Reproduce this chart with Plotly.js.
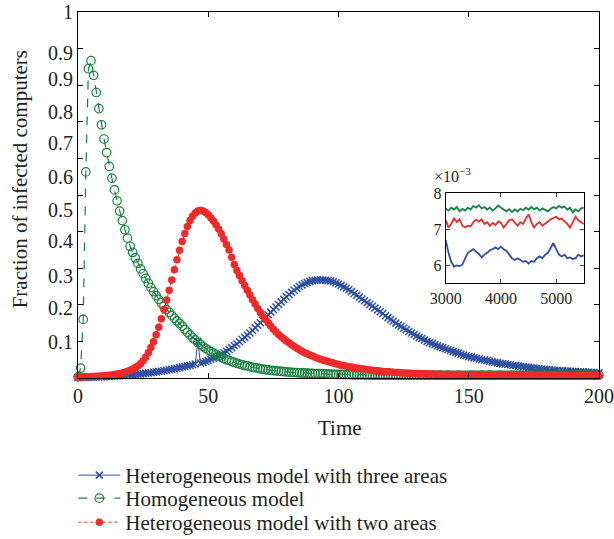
<!DOCTYPE html>
<html>
<head>
<meta charset="utf-8">
<script src="https://cdn.plot.ly/plotly-3.0.1.min.js"></script>
<style>html,body{margin:0;padding:0;background:#fff;}#chart{width:614px;height:539px;}</style>
</head>
<body>
<div id="chart"></div>
<script>
// ---------- main plot data (fraction of infected computers, t = 0..200) ----------
const seriesNames = ["Heterogeneous model with three areas", "Homogeneous model", "Heterogeneous model with two areas"];

const threeAreas = [
0.001,0.0012,0.0014,0.0016,0.0018,0.002,0.0023,0.0026,0.0029,0.0032,
0.0035,0.0039,0.0043,0.0047,0.0052,0.0057,0.0062,0.0068,0.0074,0.008,
0.0087,0.0092,0.0098,0.0105,0.0112,0.012,0.0128,0.0136,0.0145,0.0155,
0.0165,0.0176,0.0187,0.0199,0.0211,0.0224,0.0238,0.0252,0.0267,0.0283,
0.03,0.0315,0.033,0.0345,0.036,0.038,0.1,0.041,0.043,0.045,
0.048,0.051,0.054,0.057,0.061,0.065,0.069,0.073,0.078,0.083,
0.088,0.093,0.099,0.105,0.111,0.117,0.123,0.13,0.137,0.144,
0.151,0.158,0.165,0.173,0.18,0.187,0.194,0.201,0.208,0.215,
0.222,0.228,0.234,0.24,0.245,0.25,0.254,0.258,0.261,0.264,
0.266,0.267,0.268,0.268,0.268,0.267,0.266,0.265,0.263,0.26,
0.257,0.253,0.249,0.245,0.241,0.236,0.231,0.226,0.221,0.216,
0.211,0.206,0.201,0.196,0.191,0.186,0.181,0.176,0.17,0.165,
0.16,0.155,0.15,0.145,0.141,0.136,0.132,0.127,0.123,0.119,
0.115,0.111,0.108,0.104,0.1,0.097,0.094,0.091,0.088,0.085,
0.083,0.08,0.077,0.075,0.072,0.07,0.068,0.065,0.063,0.061,
0.059,0.057,0.055,0.054,0.052,0.05,0.049,0.047,0.046,0.044,
0.043,0.042,0.04,0.039,0.038,0.037,0.036,0.035,0.034,0.033,
0.032,0.031,0.03,0.029,0.028,0.027,0.0262,0.0254,0.0246,0.0238,
0.023,0.0224,0.0218,0.0212,0.0206,0.02,0.0196,0.0192,0.0188,0.0184,
0.018,0.0176,0.0172,0.0168,0.0164,0.016,0.0156,0.0152,0.0148,0.0144,0.014];

const homogeneous = [
0.003,0.027,0.16,0.563,0.845,0.867,0.827,0.78,0.736,0.692,
0.653,0.616,0.578,0.546,0.514,0.484,0.456,0.43,0.405,0.382,
0.36,0.343,0.328,0.313,0.298,0.285,0.272,0.259,0.247,0.236,
0.225,0.215,0.205,0.196,0.187,0.179,0.171,0.163,0.156,0.149,
0.142,0.133,0.125,0.118,0.11,0.104,0.097,0.092,0.086,0.081,
0.076,0.072,0.068,0.064,0.06,0.057,0.053,0.05,0.048,0.045,
0.043,0.04,0.038,0.036,0.034,0.033,0.031,0.029,0.028,0.027,
0.025,0.024,0.023,0.022,0.021,0.02,0.0195,0.0187,0.018,0.0173,
0.0166,0.016,0.0155,0.015,0.0146,0.0142,0.0138,0.0135,0.0132,0.0129,
0.0126,0.0123,0.012,0.0117,0.0114,0.0111,0.0108,0.0106,0.0103,0.0101,
0.0099,0.0097,0.0095,0.0093,0.0091,0.009,0.0088,0.0087,0.0086,0.0085,
0.0084,0.0083,0.0082,0.0081,0.0081,0.008,0.008,0.0079,0.0079,0.0078,
0.0078,0.0078,0.0077,0.0077,0.0077,0.0077,0.0076,0.0076,0.0076,0.0076,
0.0076,0.0076,0.0076,0.0075,0.0076,0.0075,0.0076,0.0075,0.0075,0.0076,
0.0075,0.0075,0.0076,0.0075,0.0075,0.0075,0.0076,0.0075,0.0075,0.0075,
0.0075,0.0076,0.0075,0.0075,0.0075,0.0076,0.0075,0.0075,0.0076,0.0075,
0.0075,0.0075,0.0076,0.0075,0.0075,0.0075,0.0076,0.0075,0.0075,0.0075,
0.0076,0.0075,0.0075,0.0075,0.0076,0.0075,0.0075,0.0076,0.0075,0.0075,
0.0075,0.0076,0.0075,0.0075,0.0075,0.0076,0.0075,0.0075,0.0076,0.0075,
0.0075,0.0075,0.0076,0.0075,0.0075,0.0075,0.0076,0.0075,0.0075,0.0076,0.0075];

const twoAreas = [
0.003,0.003,0.0032,0.0034,0.0036,0.0039,0.0042,0.0046,0.005,0.0055,
0.006,0.0066,0.0074,0.0083,0.0094,0.0107,0.0122,0.014,0.016,0.0185,
0.0213,0.0246,0.0285,0.033,0.039,0.047,0.057,0.069,0.083,0.099,
0.118,0.139,0.162,0.187,0.213,0.24,0.268,0.296,0.323,0.349,
0.373,0.395,0.414,0.43,0.442,0.451,0.456,0.458,0.456,0.452,
0.446,0.438,0.429,0.419,0.407,0.394,0.38,0.365,0.35,0.33,
0.31,0.294,0.28,0.266,0.253,0.24,0.227,0.214,0.202,0.19,
0.179,0.169,0.16,0.151,0.142,0.133,0.126,0.119,0.113,0.107,
0.101,0.096,0.091,0.086,0.081,0.077,0.073,0.069,0.066,0.063,
0.06,0.057,0.054,0.051,0.049,0.047,0.045,0.043,0.041,0.039,
0.037,0.035,0.034,0.032,0.031,0.03,0.028,0.027,0.026,0.025,
0.024,0.023,0.022,0.021,0.02,0.0195,0.0188,0.018,0.0174,0.0168,
0.0162,0.0157,0.0152,0.0147,0.0143,0.0139,0.0135,0.0131,0.0128,0.0125,
0.0122,0.0119,0.0116,0.0113,0.0111,0.0109,0.0107,0.0105,0.0103,0.0101,
0.0099,0.0097,0.0096,0.0094,0.0093,0.0092,0.009,0.0089,0.0088,0.0087,
0.0086,0.0085,0.0084,0.0083,0.0083,0.0082,0.0081,0.0081,0.008,0.008,
0.0079,0.0079,0.0078,0.0078,0.0077,0.0077,0.0077,0.0076,0.0076,0.0076,
0.0075,0.0075,0.0075,0.0074,0.0074,0.0074,0.0074,0.0073,0.0073,0.0073,
0.0073,0.0073,0.0072,0.0072,0.0072,0.0072,0.0072,0.0072,0.0071,0.0071,
0.0071,0.0071,0.0071,0.0071,0.0071,0.0071,0.0071,0.0071,0.0071,0.0071,0.0071];

// ---------- inset data (x10^-3, t = 3000..5500 every 50) ----------
const insetThree = [6.7,6.35,6.1,5.97,6.0,5.98,6.02,6.2,6.35,6.4,6.45,6.38,6.32,6.22,6.3,6.35,6.42,6.45,6.5,6.45,6.52,6.45,6.4,6.3,6.2,6.15,6.2,6.15,6.1,6.12,6.05,6.12,6.1,6.2,6.25,6.2,6.3,6.35,6.5,6.62,6.45,6.3,6.25,6.3,6.2,6.22,6.18,6.2,6.3,6.25,6.28];
const insetHomog = [7.58,7.52,7.6,7.55,7.62,7.5,7.57,7.52,7.6,7.55,7.65,7.6,7.67,7.58,7.62,7.55,7.6,7.52,7.58,7.66,7.6,7.55,7.5,7.56,7.48,7.55,7.5,7.57,7.53,7.6,7.55,7.62,7.56,7.6,7.52,7.58,7.55,7.5,7.57,7.62,7.58,7.65,7.6,7.63,7.55,7.6,7.47,7.55,7.5,7.58,7.6];
const insetTwo = [7.25,7.05,7.15,7.3,7.2,7.28,7.1,7.05,7.1,7.08,7.2,7.27,7.22,7.28,7.15,7.2,7.1,7.18,7.12,7.22,7.18,7.05,7.15,7.25,7.28,7.18,7.1,7.2,7.15,7.3,7.42,7.2,7.05,7.15,7.2,7.1,7.15,7.22,7.28,7.32,7.35,7.28,7.3,7.22,7.15,7.05,7.2,7.35,7.25,7.2,7.15];

// ---------- tick labels ----------
const xTickVals = [0, 50, 100, 150, 200];
const yTickMarks = [0.1, 0.2, 0.3, 0.4, 0.5, 0.6, 0.7, 0.8, 0.9];
const yLabelPos = [0.099, 0.191, 0.279, 0.373, 0.459, 0.550, 0.642, 0.728, 0.818, 0.888, 1.0];
const yLabelText = ["0.1", "0.2", "0.3", "0.4", "0.5", "0.6", "0.7", "0.8", "0.9", "0.9", "1"];
const insetXTicks = [3000, 4000, 5000];
const insetYTicks = [6, 7, 8];

const timeMain = threeAreas.map((_, i) => i);
const timeInset = insetThree.map((_, i) => 3000 + 50 * i);

const BLUE = "#2e4fa3", GREEN = "#17833f", RED = "#ee2a2a";
const FONT = "Liberation Serif, Times New Roman, serif";
const TXT = "#231f20";

const traces = [
  {x: timeMain, y: threeAreas, name: seriesNames[0], legend: "legend", type: "scatter", mode: "lines+markers", cliponaxis: false,
   line: {color: BLUE, width: 1}, marker: {symbol: "x-thin", size: 7, line: {color: BLUE, width: 1.5}, color: BLUE}},
  {x: timeMain, y: homogeneous, name: seriesNames[1], legend: "legend2", type: "scatter", mode: "lines+markers", cliponaxis: false,
   line: {color: GREEN, width: 1.2, dash: "dash"}, marker: {symbol: "circle-open", size: 8.5, color: GREEN, line: {color: GREEN, width: 1.2}}},
  {x: timeMain, y: twoAreas, name: seriesNames[2], legend: "legend3", type: "scatter", mode: "lines+markers", cliponaxis: false,
   line: {color: RED, width: 1, dash: "dot"}, marker: {symbol: "circle", size: 7.5, color: RED}},
  {x: timeInset, y: insetThree, xaxis: "x3", yaxis: "y3", type: "scatter", mode: "lines", showlegend: false, line: {color: BLUE, width: 1.8}},
  {x: timeInset, y: insetHomog, xaxis: "x3", yaxis: "y3", type: "scatter", mode: "lines", showlegend: false, line: {color: GREEN, width: 1.8}},
  {x: timeInset, y: insetTwo, xaxis: "x3", yaxis: "y3", type: "scatter", mode: "lines", showlegend: false, line: {color: RED, width: 1.8}}
];

const legendBase = {x: -0.0090, xanchor: "left", yanchor: "middle", font: {family: FONT, size: 21, color: TXT},
                    bgcolor: "rgba(0,0,0,0)", itemwidth: 42};

const layout = {
  width: 614, height: 539,
  margin: {l: 77.7, r: 14.5, t: 12.3, b: 161.3, autoexpand: false},
  paper_bgcolor: "#fff", plot_bgcolor: "rgba(0,0,0,0)",
  font: {family: FONT, color: TXT, size: 20},
  showlegend: true,
  legend: Object.assign({}, legendBase, {y: -0.2663}),
  legend2: Object.assign({}, legendBase, {y: -0.3292}),
  legend3: Object.assign({}, legendBase, {y: -0.3949}),
  xaxis: {range: [0, 200], tickvals: xTickVals, ticks: "inside", ticklen: 5, tickcolor: "#000", mirror: "ticks",
          showline: true, linecolor: "#000", linewidth: 1, zeroline: false, showgrid: false,
          tickfont: {family: FONT, size: 20, color: TXT}},
  yaxis: {range: [0, 1], tickvals: yLabelPos, ticktext: yLabelText, ticks: "", showline: true, linecolor: "#000",
          linewidth: 1, mirror: true, zeroline: false, showgrid: false, tickfont: {family: FONT, size: 20, color: TXT}},
  yaxis2: {range: [0, 1], overlaying: "y", side: "left", tickvals: yTickMarks, showticklabels: false, ticks: "inside",
           ticklen: 5, tickcolor: "#000", mirror: "ticks", showline: true, linecolor: "#000", zeroline: false, showgrid: false},
  xaxis3: {domain: [0.7058, 0.9709], anchor: "y3", range: [3000, 5500], tickvals: insetXTicks, ticks: "inside", ticklen: 4,
           mirror: "ticks", showline: true, linecolor: "#000", zeroline: false, showgrid: false,
           tickfont: {family: FONT, size: 16, color: TXT}},
  yaxis3: {domain: [0.2583, 0.5047], anchor: "x3", range: [5.5, 8], tickvals: insetYTicks, ticks: "inside", ticklen: 4,
           mirror: "ticks", showline: true, linecolor: "#000", zeroline: false, showgrid: false,
           tickfont: {family: FONT, size: 16, color: TXT}},
  annotations: [
    {text: "Fraction of infected computers", textangle: -90, xref: "paper", yref: "paper", x: -0.1106, y: 0.5438,
     xanchor: "center", yanchor: "middle", showarrow: false, font: {family: FONT, size: 21, color: TXT}},
    {text: "Time", xref: "paper", yref: "paper", x: 0.5027, y: -0.1377, xanchor: "center", yanchor: "middle",
     showarrow: false, font: {family: FONT, size: 21, color: TXT}},
    {text: "×10<sup>−3</sup>", xref: "paper", yref: "paper", x: 0.679, y: 0.5547, xanchor: "left", yanchor: "middle",
     showarrow: false, font: {family: FONT, size: 16, color: TXT}}
  ]
};

// invisible trace to register yaxis2 for tick marks
traces.push({x: [0], y: [0], yaxis: "y2", type: "scatter", mode: "markers", marker: {opacity: 0}, showlegend: false, hoverinfo: "skip"});

Plotly.newPlot("chart", traces, layout, {displayModeBar: false, staticPlot: true});
</script>
</body>
</html>
